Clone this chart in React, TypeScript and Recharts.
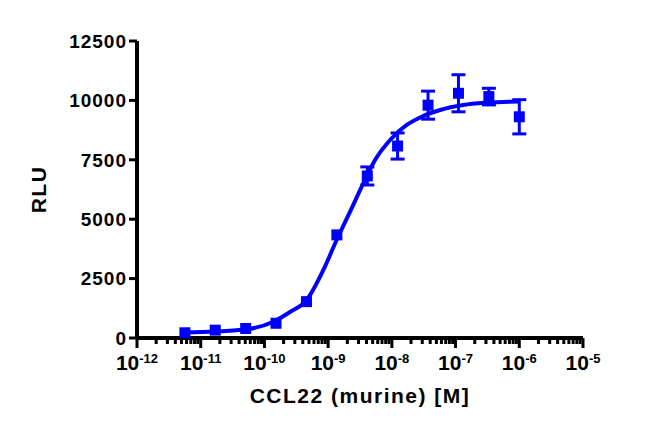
import React from "react";
import { ComposedChart, Line, Scatter, ErrorBar, XAxis, YAxis } from "recharts";

// concentrations of CCL22 (M), 3-fold dilutions
const concentrations = [5.65e-12, 1.69e-11, 5.08e-11, 1.52e-10, 4.57e-10, 1.37e-9, 4.12e-9, 1.23e-8, 3.7e-8, 1.11e-7, 3.33e-7, 1e-6];
const rluMeans = [220, 330, 400, 620, 1530, 4340, 6820, 8080, 9800, 10300, 10160, 9310];
// error bars too small to show beyond the marker are left out
const rluErrors = [null, null, null, null, null, null, 380, 550, 590, 780, 350, 720];

// fitted curve
const fitConc = [5.68e-12, 1.68e-11, 5.27e-11, 1.38e-10, 2.52e-10, 4.61e-10, 8.41e-10, 1.36e-9, 2.21e-9, 3.37e-9, 5.45e-9, 9.38e-9, 1.71e-8, 2.94e-8, 5.71e-8, 1.32e-7, 3.09e-7, 1e-6];
const fitRlu = [231, 274, 366, 686, 1094, 1600, 2862, 4125, 5316, 6368, 7492, 8334, 8965, 9314, 9597, 9807, 9904, 9954];

const decades = [-12, -11, -10, -9, -8, -7, -6, -5];
const yTicks = [0, 2500, 5000, 7500, 10000, 12500];

const BLUE = "#0000ff";
const FONT = "'Liberation Sans', Arial, sans-serif";

const points = concentrations.map((x, i) => ({ x, y: rluMeans[i], err: rluErrors[i] }));
const curve = fitConc.map((x, i) => ({ x, y: fitRlu[i] }));

const xTicks: number[] = [];
decades.forEach((e, i) => {
  xTicks.push(Math.pow(10, e));
  if (i < decades.length - 1) {
    for (let m = 2; m <= 9; m++) xTicks.push(m * Math.pow(10, e));
  }
});

const LogTick = (props: any) => {
  const { x, y, payload } = props;
  const lg = Math.log10(payload.value);
  const exp = Math.round(lg);
  const major = Math.abs(lg - exp) < 1e-6;
  return (
    <g>
      <line x1={x} x2={x} y1={y} y2={y + (major ? 10 : 6)} stroke="#000" strokeWidth={3} />
      {major && (
        <text x={x} y={y + 32} textAnchor="middle" fill="#000" fontFamily={FONT} fontWeight="bold" fontSize={21}>
          <tspan>10</tspan>
          <tspan dy={-7} fontSize={13}>{exp}</tspan>
        </text>
      )}
    </g>
  );
};

const Square = (props: any) => {
  const { cx, cy } = props;
  if (cx == null || cy == null) return null;
  return <rect x={cx - 5.5} y={cy - 5.5} width={11} height={11} fill={BLUE} />;
};

const YTitle = (props: any) => {
  const { x, y, height } = props.viewBox;
  const cx = x - 19;
  const cy = y + height / 2;
  return (
    <text x={cx} y={cy} transform={`rotate(-90, ${cx}, ${cy})`} textAnchor="middle" dominantBaseline="central"
      fill="#000" fontFamily={FONT} fontWeight="bold" fontSize={21} letterSpacing={1.5}>
      RLU
    </text>
  );
};

const XTitle = (props: any) => {
  const { x, y, width } = props.viewBox;
  return (
    <text x={x + width / 2} y={y + 65} textAnchor="middle" fill="#000" fontFamily={FONT} fontWeight="bold" fontSize={21} letterSpacing={1.5}>
      CCL22 (murine) [M]
    </text>
  );
};

export default function App() {
  return (
    <div style={{ position: "absolute", left: 0, top: 0, background: "#fff" }}>
      <ComposedChart width={650} height={434} margin={{ top: 41, right: 67, bottom: 36, left: 57 }}>
        <XAxis
          dataKey="x"
          type="number"
          scale="log"
          domain={[1e-12, 1e-5]}
          allowDataOverflow
          ticks={xTicks}
          interval={0}
          tick={<LogTick />}
          tickLine={false}
          tickSize={0}
          tickMargin={0}
          height={60}
          axisLine={{ stroke: "#000", strokeWidth: 4 }}
          label={{ content: (p: any) => <XTitle {...p} /> }}
        />
        <YAxis
          dataKey="y"
          type="number"
          domain={[0, 12500]}
          ticks={yTicks}
          interval={0}
          width={80}
          tickSize={8}
          tickMargin={2}
          tickLine={{ stroke: "#000", strokeWidth: 3 }}
          axisLine={{ stroke: "#000", strokeWidth: 4 }}
          tick={{ fill: "#000", fontSize: 19, fontWeight: "bold", fontFamily: FONT, letterSpacing: 1 }}
          label={{ content: (p: any) => <YTitle {...p} /> }}
        />
        <Line data={curve} dataKey="y" type="monotone" stroke={BLUE} strokeWidth={4} dot={false} isAnimationActive={false} />
        <Scatter data={points} dataKey="y" shape={<Square />} isAnimationActive={false}>
          <ErrorBar dataKey="err" direction="y" width={7} strokeWidth={3} stroke={BLUE} isAnimationActive={false} />
        </Scatter>
      </ComposedChart>
    </div>
  );
}
